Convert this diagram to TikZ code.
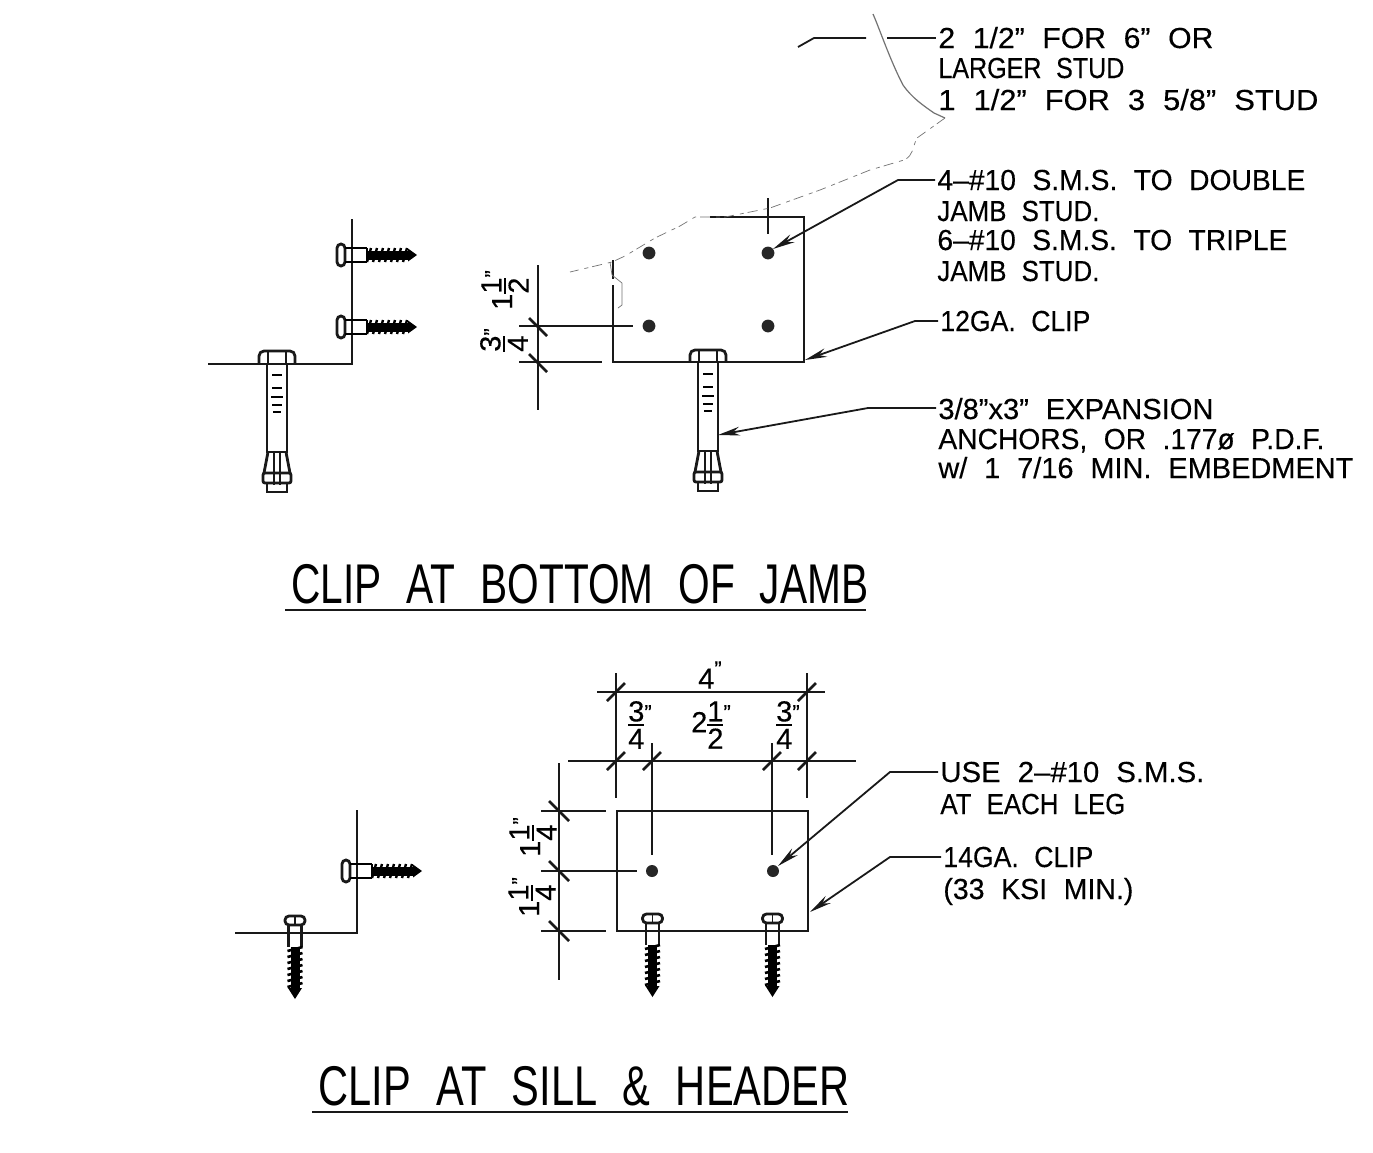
\documentclass[tikz,border=0pt]{standalone}
\usepackage{fontspec}
\setmainfont{Liberation Sans}[WordSpace=2.1,FakeBold=0.3]
\newfontfamily\titlefont{Liberation Sans}[WordSpace=2.2]
\usetikzlibrary{arrows.meta}
\newsavebox\fitbox
\newcommand\fitw[2]{\sbox\fitbox{#2}\pgfmathsetmacro\fitS{0.5*#1/\the\wd\fitbox}\scalebox{\fitS}[1]{\usebox\fitbox}}
\newcommand\Frc[2]{\ensuremath{\vcenter{\offinterlineskip\halign{\hfil##\hfil\cr\hbox{#1}\cr\noalign{\kern1.3pt}\vrule width 8pt height 1pt\cr\noalign{\kern1.3pt}\hbox{#2}\cr}}}}
\newcommand\qq{\raisebox{6pt}{\fontsize{11}{11}\selectfont ”}}
\tikzset{
  x=0.5pt,y=-0.5pt,
  obj/.style={line width=1.4pt,black!90},
  dimline/.style={line width=0.9pt,black!90},
  dimtick/.style={line width=1.3pt,black!90},
  leader/.style={line width=0.9pt,black!90,shorten <=1pt,-{Stealth[length=11pt,width=4.4pt]}},
  leaderplain/.style={line width=0.9pt,black!90},
  torn/.style={line width=0.35pt,black!55},
  note/.style={anchor=base west,inner sep=0pt,font=\fontsize{14.5}{14.5}\selectfont},
  dimtxt/.style={inner sep=0pt,font=\fontsize{14.5}{14.5}\selectfont},
  titletxt/.style={anchor=base west,inner sep=0pt,font=\titlefont\fontsize{28}{28}\selectfont},
  hole/.style={fill=black!85,draw=none},
  hscrew/.pic={
    \draw[obj,rounded corners=2pt] (-15,-11) rectangle (-7,11);
    \draw[line width=1pt] (-7,-7) -- (15,-7) (-7,7) -- (15,7) (15,-7) -- (15,7);
    \fill (15,-4.5) rectangle (56,4.5);
    \foreach \k in {15,21,...,51}{\draw[line width=1.2pt] (\k,7) -- (\k+4,-7);}
    \fill (56,-6.5) -- (65,0) -- (56,6.5) -- cycle;
  },
  vscrew/.pic={
    \draw[obj,rounded corners=2pt] (-10,-17) rectangle (10,-8);
    \draw[dimline] (0,-17) -- (0,-8);
    \draw[obj] (-6.5,-8) -- (-6.5,14) (6.5,-8) -- (6.5,14);
    \fill (-4.5,14) rectangle (4.5,56);
    \foreach \k in {14,20,...,50}{\draw[line width=1.3pt] (-7.5,\k+4) -- (7.5,\k);}
    \fill (-7,55) -- (0,66) -- (7,55) -- cycle;
  },
  anchorbolt/.pic={
    \draw[obj,rounded corners=2.5pt] (-18,0) -- (-18,-12) -- (18,-12) -- (18,0);
    \draw[dimline] (-9,-12) -- (-9,0) (9,-12) -- (9,0);
    \draw[obj] (-10,0) -- (-10,89) -- (10,89) -- (10,0);
    \foreach \yy/\w in {12/5,25/5,34/6,42/5,49/4}{\draw[line width=1.1pt] (-\w,\yy) -- (\w,\yy);}
    \draw[obj] (-9,89) -- (-13,110) (9,89) -- (13,110);
    \draw[dimline] (-3,89) -- (-3,122) (3,89) -- (3,122);
    \draw[obj,rounded corners=1pt] (-14,110) rectangle (14,120);
    \draw[obj] (-10,120) rectangle (10,129);
  }
}
\begin{document}
\begin{tikzpicture}
\useasboundingbox (0,0) rectangle (1373,1153);
\fill[white] (0,0) rectangle (1373,1153);

% ---------- upper drawing: side view
\draw[obj] (352,219) -- (352,364) -- (208,364);
\pic at (352,255) {hscrew};
\pic at (352,327) {hscrew};
\pic at (277,363) {anchorbolt};

% ---------- upper drawing: elevation
\draw[obj] (710,217) -- (804,217) -- (804,362) -- (613,362) -- (613,285);
\draw[obj] (613,260) -- (613,279);
\coordinate (hA) at (649,253);
\coordinate (hB) at (768,253);
\coordinate (hC) at (649,326);
\coordinate (hD) at (768,326);
\foreach \h in {hA,hB,hC,hD}{\fill[hole] (\h) circle (3.2pt);}
\pic at (708,362) {anchorbolt};
\draw[dimline] (768,198) -- (768,234);
\draw[dimline] (538,265) -- (538,410);
\draw[dimline] (519,326) -- (633,326);
\draw[dimline] (519,362) -- (602,362);
\draw[dimtick] (529,318) -- (547,336);
\draw[dimtick] (529,354) -- (547,372);
\node[dimtxt,rotate=90] (dimA) at (505,290) {1\Frc{1}{2}\qq};
\node[dimtxt,rotate=90] (dimB) at (504,340) {\Frc{3}{4}\qq};

% ---------- torn paper marks
\draw[torn,line width=.6pt] (873,14) .. controls (880,30) and (890,60) .. (903,85) .. controls (912,98) and (924,106) .. (934,113) -- (945,118);
\draw[torn,dash pattern=on 5pt off 2pt on 2pt off 3pt] (945,118) -- (917,138) .. controls (912,148) and (914,155) .. (904,160) -- (870,170) -- (820,190) -- (770,208) -- (725,217) -- (695,217) -- (680,226) -- (655,238) -- (625,256) -- (612,262) -- (570,272);
\draw[torn] (610,262) -- (612,275) -- (622,283) -- (622,305) -- (618,308);

% ---------- upper notes
\node[note] (nA) at (938,48) {\fitw{275}{2 1/2” FOR 6” OR}};
\node[note] (nB) at (938,78) {\fitw{186}{LARGER STUD}};
\node[note] (nC) at (938,110) {\fitw{380}{1 1/2” FOR 3 5/8” STUD}};
\node[note] (nD) at (937,190) {\fitw{368}{4–\#10 S.M.S. TO DOUBLE}};
\node[note] (nE) at (937,221) {\fitw{162}{JAMB STUD.}};
\node[note] (nF) at (937,250) {\fitw{350}{6–\#10 S.M.S. TO TRIPLE}};
\node[note] (nG) at (937,281) {\fitw{162}{JAMB STUD.}};
\node[note] (nH) at (940,331) {\fitw{150}{12GA. CLIP}};
\node[note] (nI) at (938,419) {\fitw{275}{3/8”x3” EXPANSION}};
\node[note] (nJ) at (938,449) {\fitw{386}{ANCHORS, OR .177ø P.D.F.}};
\node[note] (nK) at (938,478) {\fitw{415}{w/ 1 7/16 MIN. EMBEDMENT}};

\coordinate (topA) at (798,47);
\coordinate (topB) at (814,38);
\coordinate (topC) at (866,38);
\coordinate (topD) at (887,38);
\draw[leaderplain] (topA) -- (topB) -- (topC);
\draw[leaderplain,shorten >=1pt] (topD) -- (nA.west |- topD);
\coordinate (ldA) at (898,180);
\coordinate (ldAt) at (773,249);
\draw[leader] (nD.west |- ldA) -- (ldA) -- (ldAt);
\coordinate (ldB) at (915,321);
\coordinate (ldBt) at (805,360);
\draw[leader] (nH.west |- ldB) -- (ldB) -- (ldBt);
\coordinate (ldC) at (868,408);
\coordinate (ldCt) at (718,435);
\draw[leader] (nI.west |- ldC) -- (ldC) -- (ldCt);

\node[titletxt] (tA) at (291,603) {\fitw{577}{CLIP AT BOTTOM OF JAMB}};
\draw[leaderplain,line width=1pt] (285,610) -- (866,610);

% ---------- lower drawing: side view
\draw[obj] (357,810) -- (357,933) -- (235,933);
\pic at (357,871) {hscrew};
\pic at (295,933) {vscrew};

% ---------- lower drawing: elevation
\draw[obj] (617,811) rectangle (808,931);
\coordinate (hE) at (652,871);
\coordinate (hF) at (773,871);
\foreach \h in {hE,hF}{\fill[hole] (\h) circle (3pt);}
\pic at (652.5,931) {vscrew};
\pic at (772.5,931) {vscrew};
\draw[dimline] (597,692) -- (825,692);
\draw[dimline] (568,761) -- (856,761);
\draw[dimline] (616,673) -- (616,798);
\draw[dimline] (807,673) -- (807,798);
\draw[dimline] (652,743) -- (652,855);
\draw[dimline] (772,743) -- (772,855);
\draw[dimline] (559,763) -- (559,980);
\draw[dimline] (541,811) -- (606,811);
\draw[dimline] (541,871) -- (637,871);
\draw[dimline] (541,931) -- (606,931);
\foreach \xx/\yy in {616/692,807/692,616/761,652/761,772/761,807/761}{\draw[dimtick] (\xx-9,\yy+9) -- (\xx+9,\yy-9);}
\foreach \yy in {811,871,931}{\draw[dimtick] (549,\yy-10) -- (569,\yy+10);}
\node[dimtxt] (dimC) at (710,675) {4\qq};
\node[dimtxt] (dimD) at (640,725) {\Frc{3}{4}\qq};
\node[dimtxt] (dimE) at (711,725) {2\Frc{1}{2}\qq};
\node[dimtxt] (dimF) at (788,725) {\Frc{3}{4}\qq};
\node[dimtxt,rotate=90] (dimG) at (533,837) {1\Frc{1}{4}\qq};
\node[dimtxt,rotate=90] (dimH) at (532,897) {1\Frc{1}{4}\qq};

% ---------- lower notes
\node[note] (nL) at (940,782) {\fitw{264}{USE 2–\#10 S.M.S.}};
\node[note] (nM) at (940,814) {\fitw{185}{AT EACH LEG}};
\node[note] (nN) at (943,867) {\fitw{150}{14GA. CLIP}};
\node[note] (nO) at (943,899) {\fitw{190}{(33 KSI MIN.)}};
\coordinate (ldD) at (890,772);
\coordinate (ldDt) at (778,866);
\draw[leader] (nL.west |- ldD) -- (ldD) -- (ldDt);
\coordinate (ldE) at (890,857);
\coordinate (ldEt) at (810,912);
\draw[leader] (nN.west |- ldE) -- (ldE) -- (ldEt);

\node[titletxt] (tB) at (318,1105) {\fitw{531}{CLIP AT SILL \& HEADER}};
\draw[leaderplain,line width=1pt] (312,1112) -- (848,1112);
\end{tikzpicture}
\end{document}
